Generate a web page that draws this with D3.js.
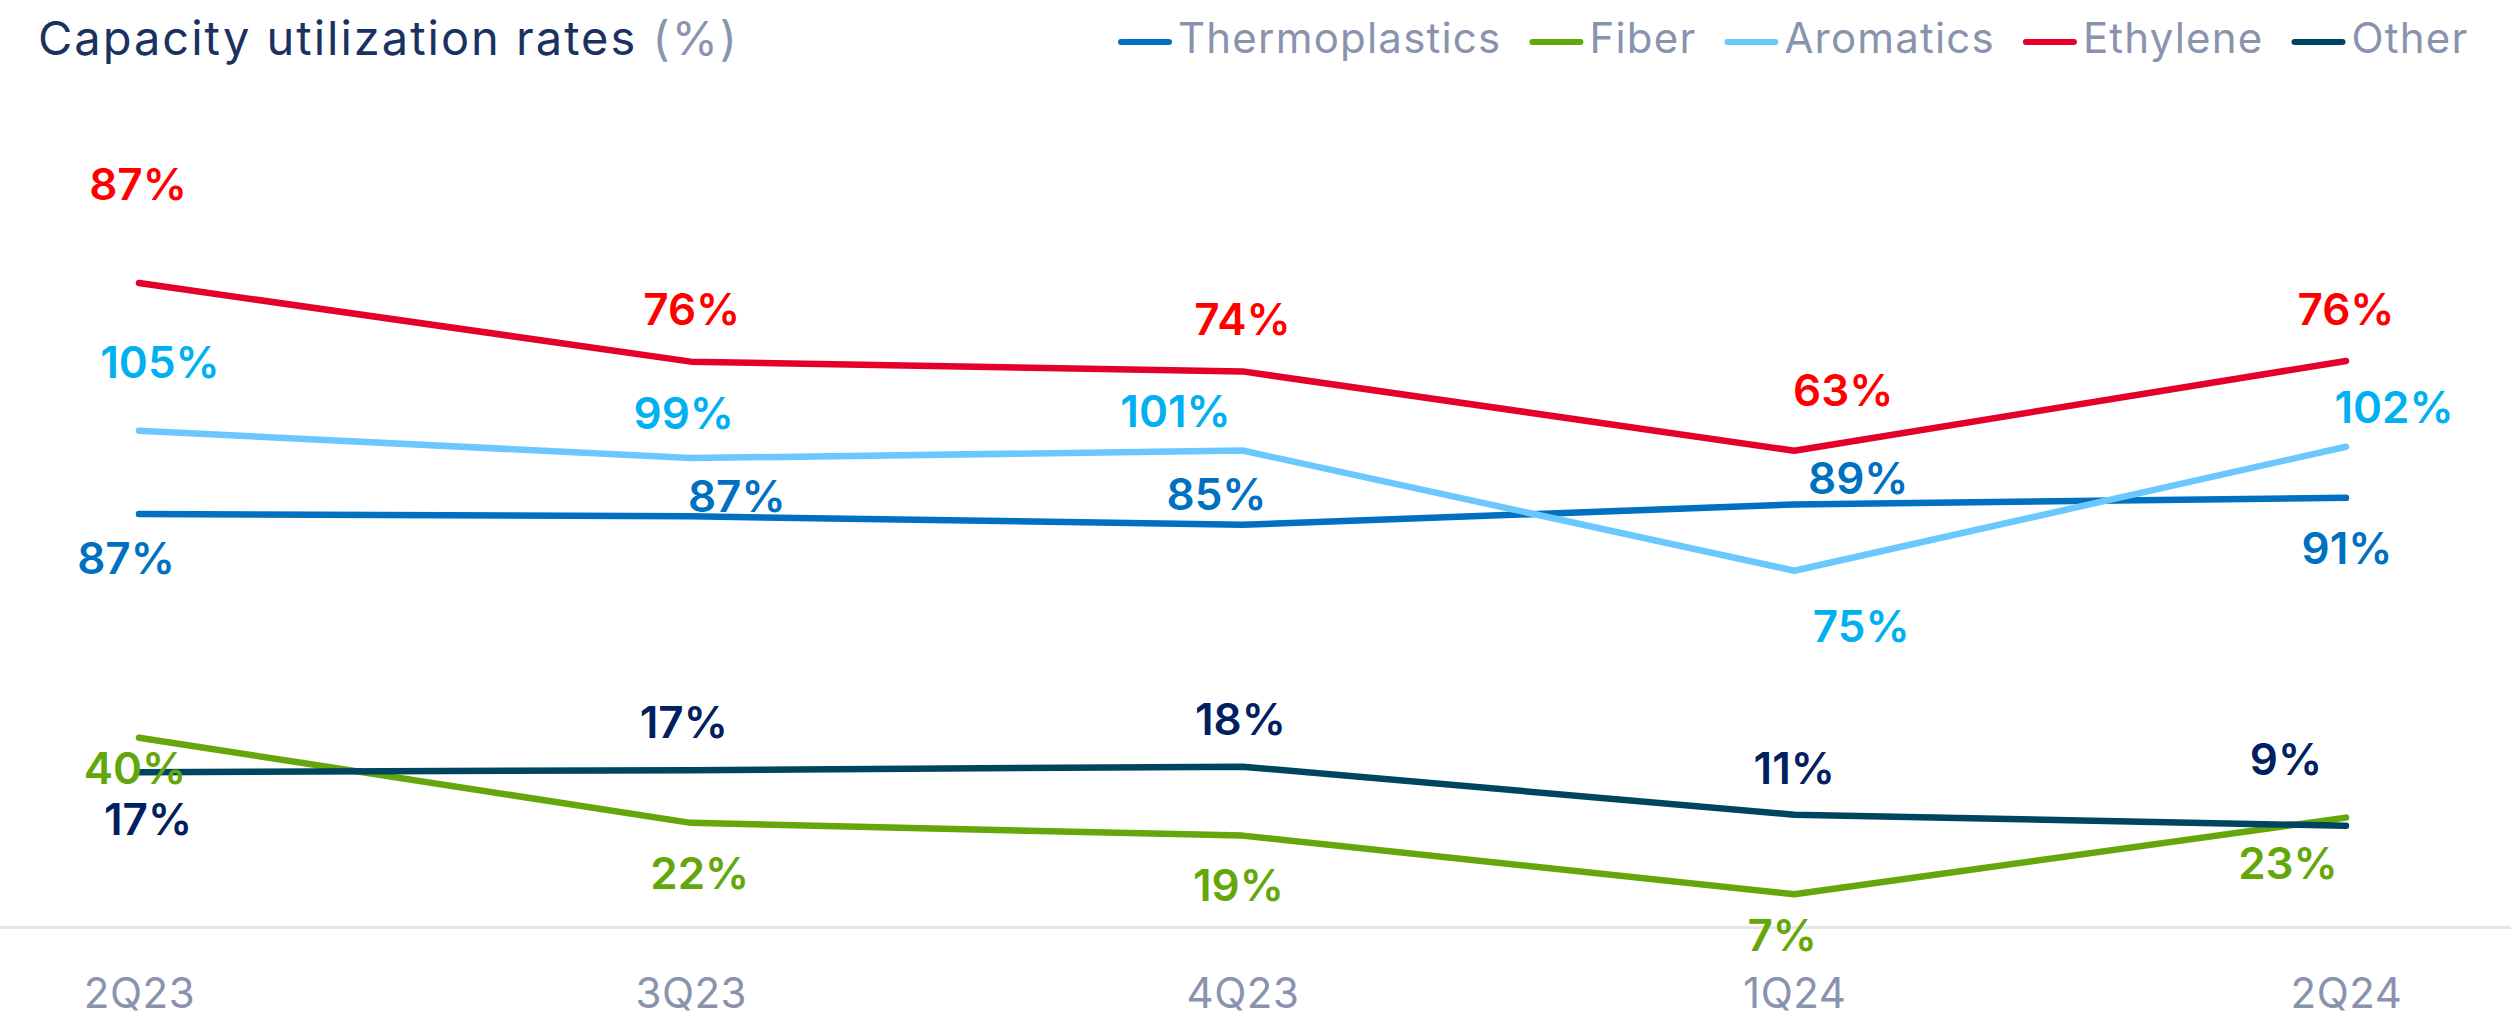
<!DOCTYPE html>
<html>
<head>
<meta charset="utf-8">
<script src="https://cdn.jsdelivr.net/npm/d3@7"></script>
<style>
  html, body { margin: 0; padding: 0; background: #ffffff; }
  svg { display: block; }
  text { font-family: Inter, "Open Sans", "DejaVu Sans", sans-serif; }
</style>
</head>
<body>
<svg id="chart" width="2511" height="1023"></svg>
<script>
// ---------- data ----------
const quarters = ["2Q23", "3Q23", "4Q23", "1Q24", "2Q24"];
const seriesNames = ["Thermoplastics", "Fiber", "Aromatics", "Ethylene", "Other"];
// values (labels show them rounded)
const thermoplastics = [87.4, 86.9, 85.1, 89.4, 90.8];
const fiber          = [40.1, 22.1, 19.4, 7.0, 23.2];
const aromatics      = [105.0, 99.2, 100.8, 75.4, 101.6];
const ethylene       = [87.0, 75.7, 74.3, 62.9, 75.8];
const other          = [16.7, 17.0, 17.5, 10.6, 9.0];
// which value axis each series is plotted against
const seriesAxis = ["primary", "primary", "primary", "secondary", "secondary"];
const titleText = "Capacity utilization rates";
const titleUnit = "(%)";

// ---------- styling / layout (not data) ----------
const lineColors  = ["#0070c0", "#63a70a", "#6bc8ff", "#e4002b", "#00455f"];
const labelColors = ["#0070c0", "#63a70a", "#00b0f0", "#ff0000", "#002060"];
// label nudges relative to each point [dx, dy]
const labelNudge = [
  [[-13, 44], [46, -20], [-26, -31], [64, -26], [1, 50]],
  [[-4, 30], [9, 50], [-4, 50], [-12, 41], [-58, 46]],
  [[21, -69], [-7, -45], [-67, -39], [67, 55], [48, -40]],
  [[-1, -99], [1, -52], [0, -52], [49, -61], [0, -52]],
  [[9, 47], [-7, -48], [-2, -47], [0, -47], [-60, -67]]
];

const W = 2511, H = 1023;
const svg = d3.select("#chart");

const values = [thermoplastics, fiber, aromatics, ethylene, other];

const x = d3.scalePoint().domain(quarters).range([139, 2346]);
const yPrimary = d3.scaleLinear().domain([0, 174.9]).range([927.4, 100]);
const ySecondary = d3.scaleLinear().domain([-5.6, 113.3]).range([927.4, 100]);
const yFor = a => (a === "primary" ? yPrimary : ySecondary);

// baseline
svg.append("line")
  .attr("x1", 0).attr("x2", W)
  .attr("y1", yPrimary(0)).attr("y2", yPrimary(0))
  .attr("stroke", "#e6e6e6").attr("stroke-width", 3);

// x axis labels
const xAxis = d3.axisBottom(x).tickSize(0).tickPadding(0);
const gx = svg.append("g").attr("transform", `translate(0, ${yPrimary(0)})`).call(xAxis);
gx.select(".domain").remove();
gx.selectAll("text")
  .attr("y", 66).attr("dy", "0.35em")
  .style("font-size", "42px")
  .style("font-family", "Inter, 'Open Sans', sans-serif")
  .style("letter-spacing", "0.5px")
  .attr("fill", "#8a93ae");

// lines
const series = seriesNames.map((name, i) => ({
  name, i,
  y: yFor(seriesAxis[i]),
  pts: quarters.map((q, j) => ({ q, v: values[i][j], j }))
}));

series.forEach(s => {
  const line = d3.line().x(d => x(d.q)).y(d => s.y(d.v));
  svg.append("path")
    .datum(s.pts)
    .attr("d", line)
    .attr("fill", "none")
    .attr("stroke", lineColors[s.i])
    .attr("stroke-width", 6.5)
    .attr("stroke-linecap", "round")
    .attr("stroke-linejoin", "round");
});

// labels
const fmt = d3.format(".0f");
series.forEach(s => {
  svg.append("g").selectAll("text")
    .data(s.pts)
    .join("text")
    .attr("x", d => x(d.q) + labelNudge[s.i][d.j][0])
    .attr("y", d => s.y(d.v) + labelNudge[s.i][d.j][1])
    .attr("dy", "0.36em")
    .attr("text-anchor", "middle")
    .attr("fill", labelColors[s.i])
    .style("font-size", "44px")
    .style("font-weight", 600)
    .text(d => fmt(d.v) + "%");
});

// title
const title = svg.append("text")
  .attr("x", 38).attr("y", 55)
  .style("font-size", "47px")
  .style("font-weight", 400)
  .style("letter-spacing", "2px")
  .attr("fill", "#1b3160");
title.append("tspan").text(titleText + " ");
title.append("tspan").attr("fill", "#8a93b0").text(titleUnit);

// legend
const legend = svg.append("g");
let lx = 1118;
seriesNames.forEach((name, i) => {
  legend.append("line")
    .attr("x1", lx + 3).attr("x2", lx + 51)
    .attr("y1", 42).attr("y2", 42)
    .attr("stroke", lineColors[i]).attr("stroke-width", 6)
    .attr("stroke-linecap", "round");
  const t = legend.append("text")
    .attr("x", lx + 60).attr("y", 53)
    .style("font-size", "42px")
    .style("letter-spacing", "1.2px")
    .attr("fill", "#8a93ae")
    .text(name);
  lx = lx + 60 + t.node().getComputedTextLength() + 28;
});
</script>
</body>
</html>
